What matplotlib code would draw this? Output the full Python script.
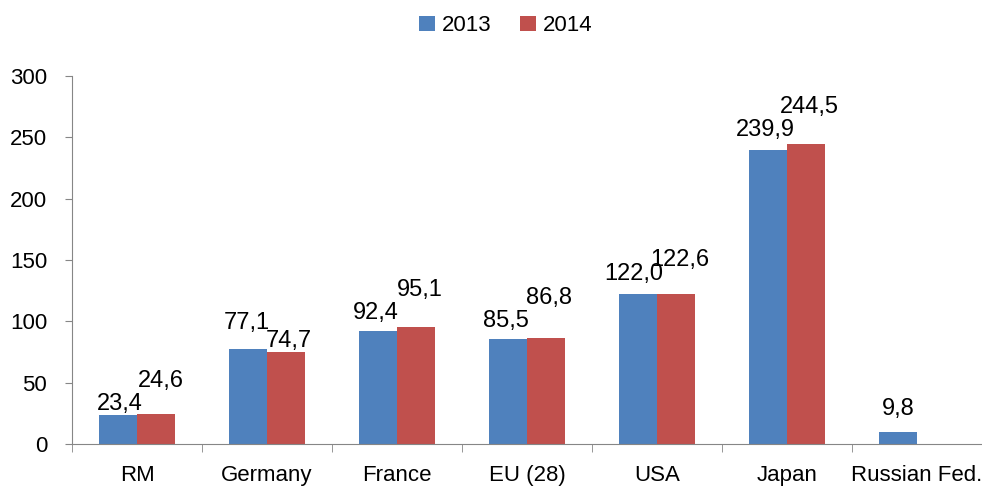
import numpy as np
import matplotlib
matplotlib.use('Agg')
import matplotlib.pyplot as plt

# data
categories = ['RM', 'Germany', 'France', 'EU (28)', 'USA', 'Japan', 'Russian Fed.']
series_names = ['2013', '2014']
values_2013 = [23.4, 77.1, 92.4, 85.5, 122.0, 239.9, 9.8]
values_2014 = [24.6, 74.7, 95.1, 86.8, 122.6, 244.5, np.nan]
y_ticks = [0, 50, 100, 150, 200, 250, 300]

# label lift above bar top / sideways shift, in pixels (staggered placement)
lift_2013 = [11, 26, 18, 18, 20, 20, 23]
lift_2014 = [33, 11, 37, 40, 34, 37, 0]
shift_2013 = [2, -1, -2, -2, -4, -3, 0]
shift_2014 = [5, 3, 4, 3, 4, 4, 0]

blue = '#4F81BD'
red = '#C0504D'
grey = '#868686'

plt.rcParams['font.family'] = ['Liberation Sans', 'DejaVu Sans']
plt.rcParams['font.size'] = 16

fig = plt.figure(figsize=(9.82, 4.86), dpi=100)
ax = fig.add_axes([72/982, 42/486, 1 - 72/982, 368/486])

x = np.arange(len(categories))
w = 0.29
b1 = ax.bar(x - w/2, values_2013, w, color=blue, label=series_names[0])
b2 = ax.bar(x + w/2, values_2014, w, color=red, label=series_names[1])

def fmt(v):
    return ('%.1f' % v).replace('.', ',')

for xs, vals, lifts, shifts in ((x - w/2, values_2013, lift_2013, shift_2013),
                                (x + w/2, values_2014, lift_2014, shift_2014)):
    for xi, v, d, s in zip(xs, vals, lifts, shifts):
        if np.isnan(v):
            continue
        ax.annotate(fmt(v), (xi, v), xytext=(s*0.72, d*0.72), textcoords='offset points',
                    ha='center', va='center', fontsize=17)

ax.set_xlim(-0.5, len(categories) - 0.5)
ax.set_ylim(0, 300)
ax.set_yticks(y_ticks)
ax.set_xticks(x)
ax.set_xticklabels(categories)
ax.set_xticks(np.arange(len(categories)) - 0.5, minor=True)
ax.tick_params(axis='x', which='major', length=0, pad=15)
ax.tick_params(axis='x', which='minor', length=6, color=grey, direction='out')
ax.tick_params(axis='y', length=5, color=grey, pad=13)

for s in ['top', 'right']:
    ax.spines[s].set_visible(False)
for s in ['left', 'bottom']:
    ax.spines[s].set_color(grey)

fig.legend(handles=[b1, b2], loc='upper center', bbox_to_anchor=(0.515, 1.01), ncol=2,
           frameon=False, handlelength=0.7, handleheight=0.7, handletextpad=0.3,
           columnspacing=1.3, fontsize=16)

fig.savefig('out.png', dpi=100)
